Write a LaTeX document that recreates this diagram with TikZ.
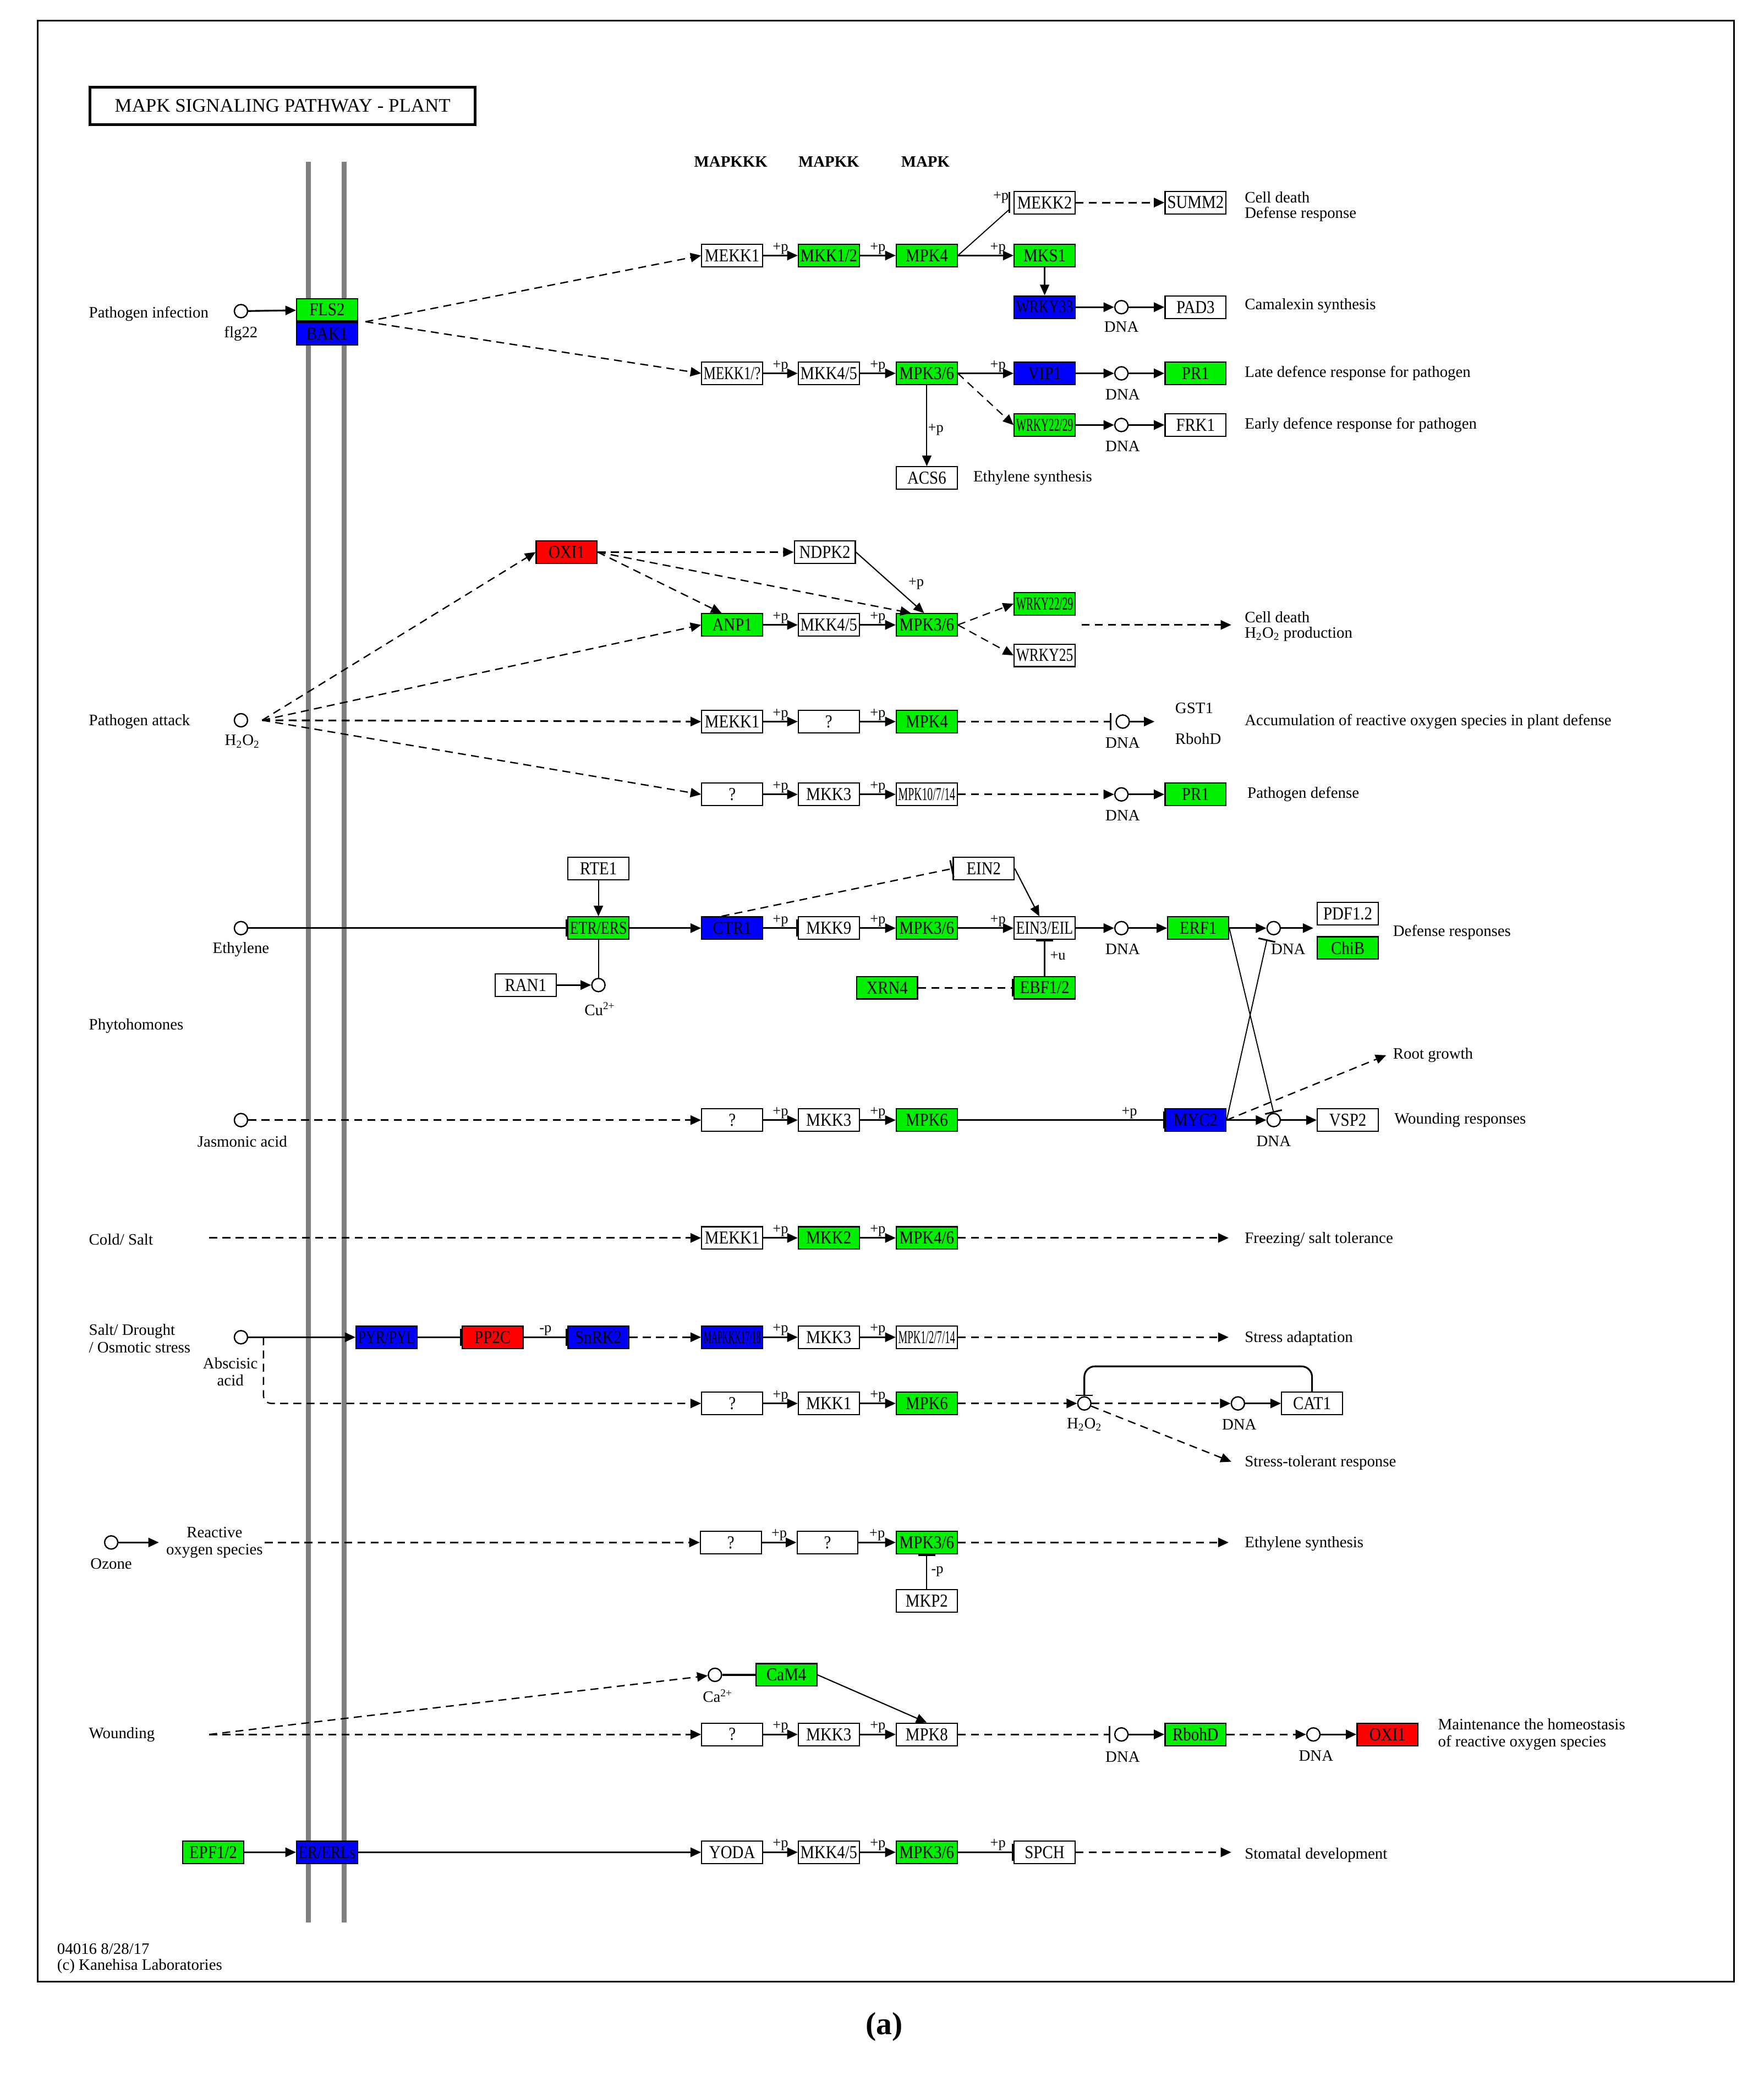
\documentclass[tikz,border=0pt]{standalone}
\usepackage{fontspec}
\setmainfont{Liberation Serif}
\usepackage{graphicx}
\usetikzlibrary{arrows.meta,calc}
\definecolor{kgreen}{RGB}{0,240,0}
\definecolor{kblue}{RGB}{0,0,255}
\definecolor{kred}{RGB}{255,0,0}
\definecolor{memb}{RGB}{128,128,128}
\newsavebox\fitlabbox
\newcommand\fitlab[1]{\sbox\fitlabbox{\scalebox{1}[1.15]{#1}}\ifdim\wd\fitlabbox>43pt\resizebox{43pt}{\height}{\usebox\fitlabbox}\else\usebox\fitlabbox\fi}
\newcommand\gene[4]{\node[gbox,fill=#4] (#1) at (#2) {\fitlab{#3}};}
\tikzset{
 gbox/.style={draw=black, line width=0.9pt, minimum width=46pt, minimum height=17pt, inner sep=0pt, font=\fontsize{12}{12}\selectfont},
 cmpd/.style={circle, draw=black, fill=white, line width=1pt, minimum size=10pt, inner sep=0pt},
 lbl/.style={font=\fontsize{12}{13}\selectfont, inner sep=0pt},
 lblw/.style={lbl, anchor=west},
 plab/.style={font=\fontsize{11}{11}\selectfont, inner sep=0.5pt},
 link/.style={line width=1.3pt},
 arr/.style={line width=1.3pt, -{Triangle[length=8pt,width=7pt]}},
 darr/.style={arr, dash pattern=on 6pt off 4pt},
 inh/.style={line width=1.3pt, -{Bar[width=13pt,line width=1.2pt]}},
 dinh/.style={inh, dash pattern=on 6pt off 4pt},
}
\begin{document}
\begin{tikzpicture}[x=1pt,y=-1pt]
\useasboundingbox (0,0) rectangle (1332,1568);
% frame, title, membrane
\node[draw, line width=1.2pt, minimum width=1281pt, minimum height=1481pt, inner sep=0pt, anchor=north west] (frame) at (28,15) {};
\node[draw, line width=2pt, minimum width=291pt, minimum height=28pt, inner sep=0pt, font=\fontsize{14.5}{15}\selectfont] (title) at (213.5,80) {MAPK SIGNALING PATHWAY - PLANT};
\draw[memb, line width=3.5pt] (233,122) -- (233,1452);
\draw[memb, line width=3.5pt] (260,122) -- (260,1452);
\node[lbl, font=\bfseries\fontsize{12}{13}\selectfont] (hA) at (552,122) {MAPKKK};
\node[lbl, font=\bfseries\fontsize{12}{13}\selectfont] (hB) at (626,122) {MAPKK};
\node[lbl, font=\bfseries\fontsize{12}{13}\selectfont] (hC) at (699,122) {MAPK};

% ---------- Pathogen infection
\node[lblw] (tPI) at (67,237) {Pathogen infection};
\node[cmpd] (flg) at (182,235) {};
\node[lbl] (tflg) at (182,252) {flg22};
\gene{fls2}{247,234}{FLS2}{kgreen}
\gene{bak1}{247,252}{BAK1}{kblue}
\coordinate (fbsrc) at (276,243);
\gene{mekkA}{553,193}{MEKK1}{white}
\gene{mkk12}{626,193}{MKK1/2}{kgreen}
\gene{mpk4A}{700,193}{MPK4}{kgreen}
\gene{mks1}{789,193}{MKS1}{kgreen}
\gene{mekk2}{789,153}{MEKK2}{white}
\gene{summ2}{903,153}{SUMM2}{white}
\node[lblw] (tCD1) at (940,149) {Cell death};
\node[lblw] (tDR1) at (940,162) {Defense response};
\gene{wrky33}{789,232}{WRKY33}{kblue}
\node[cmpd] (dnaA) at (847,232) {};
\node[lbl] (tdnaA) at (847,247) {DNA};
\gene{pad3}{903,232}{PAD3}{white}
\node[lblw] (tCam) at (940,231) {Camalexin synthesis};
\gene{mekkQ}{553,282}{MEKK1/?}{white}
\gene{mkk45A}{626,282}{MKK4/5}{white}
\gene{mpk36A}{700,282}{MPK3/6}{kgreen}
\gene{vip1}{789,282}{VIP1}{kblue}
\node[cmpd] (dnaB) at (847,282) {};
\node[lbl] (tdnaB) at (848,298) {DNA};
\gene{pr1A}{903,282}{PR1}{kgreen}
\node[lblw] (tLate) at (940,282) {Late defence response for pathogen};
\gene{wrkyA}{789,321}{WRKY22/29}{kgreen}
\node[cmpd] (dnaC) at (847,321) {};
\node[lbl] (tdnaC) at (848,337) {DNA};
\gene{frk1}{903,321}{FRK1}{white}
\node[lblw] (tEarly) at (940,321) {Early defence response for pathogen};
\gene{acs6}{700,361}{ACS6}{white}
\node[lblw] (tEth1) at (735,361) {Ethylene synthesis};

\draw[arr] (flg) -- (fls2);
\draw[darr, line width=1pt] (fbsrc) -- (mekkA.west);
\draw[darr, line width=1pt] (fbsrc) -- (mekkQ.west);
\draw[arr] (mekkA) -- node[plab,above] (p1) {+p} (mkk12);
\draw[arr] (mkk12) -- node[plab,above] (p2) {+p} (mpk4A);
\draw[arr] (mpk4A) -- node[plab,above,pos=0.72] (p3) {+p} (mks1);
\coordinate (mk2bar) at ($(mekk2.west)+(-3,0)$);
\draw[line width=0.8pt] (mpk4A.east) -- ($(mk2bar)+(0,5)$);
\draw[line width=1.2pt] ($(mk2bar)+(0,-8)$) -- ($(mk2bar)+(0,8)$);
\node[plab] (p4) at (756,149) {+p};
\draw[darr] (mekk2) -- (summ2);
\draw[arr, line width=0.9pt] (mks1) -- (wrky33);
\draw[arr] (wrky33) -- (dnaA);
\draw[arr] (dnaA) -- (pad3);
\draw[arr] (mekkQ) -- node[plab,above] (p5) {+p} (mkk45A);
\draw[arr] (mkk45A) -- node[plab,above] (p6) {+p} (mpk36A);
\draw[arr] (mpk36A) -- node[plab,above,pos=0.72] (p7) {+p} (vip1);
\draw[arr] (vip1) -- (dnaB);
\draw[arr] (dnaB) -- (pr1A);
\draw[darr, line width=0.9pt] (mpk36A.east) -- (wrkyA.west);
\draw[arr] (wrkyA) -- (dnaC);
\draw[arr] (dnaC) -- (frk1);
\draw[arr, line width=0.9pt] (mpk36A) -- node[plab,right,pos=0.55] (p8) {+p} (acs6);

% ---------- OXI1 block / pathogen attack
\gene{oxiA}{428,417}{OXI1}{kred}
\gene{ndpk2}{623,417}{NDPK2}{white}
\gene{anp1}{553,472}{ANP1}{kgreen}
\gene{mkk45B}{626,472}{MKK4/5}{white}
\gene{mpk36B}{700,472}{MPK3/6}{kgreen}
\gene{wrkyB}{789,456}{WRKY22/29}{kgreen}
\gene{wrky25}{789,495}{WRKY25}{white}
\coordinate (cdS) at (817,472);
\coordinate (cdE) at (930,472);
\node[lblw] (tCD2) at (940,466) {Cell death};
\node[lblw] (tH2) at (940,479) {H\textsubscript{2}O\textsubscript{2} production};
\node[lblw] (tPA) at (67,545) {Pathogen attack};
\node[cmpd] (pa) at (182,544) {};
\node[lbl] (tpa) at (183,560) {H\textsubscript{2}O\textsubscript{2}};
\coordinate (paS) at (198,544);
\gene{mekkB}{553,545}{MEKK1}{white}
\gene{q2}{626,545}{?}{white}
\gene{mpk4B}{700,545}{MPK4}{kgreen}
\node[cmpd] (dnaD) at (848,545) {};
\node[lbl] (tdnaD) at (848,561) {DNA};
\coordinate (gstE) at (872,545);
\node[lbl] (tGST) at (902,535) {GST1};
\node[lbl] (tRboh1) at (905,558) {RbohD};
\node[lblw] (tAcc) at (940,545) {Accumulation of reactive oxygen species in plant defense};
\gene{q3}{553,600}{?}{white}
\gene{mkk3A}{626,600}{MKK3}{white}
\gene{mpk10A}{700,600}{MPK10/7/14}{white}
\node[cmpd] (dnaE) at (847,600) {};
\node[lbl] (tdnaE) at (848,616) {DNA};
\gene{pr1B}{903,600}{PR1}{kgreen}
\node[lblw] (tPD) at (942,600) {Pathogen defense};

\draw[darr, line width=1pt] (paS) -- (oxiA.west);
\draw[darr, line width=1pt] (paS) -- (anp1.west);
\draw[darr] (paS) -- (mekkB.west);
\draw[darr, line width=1pt] (paS) -- (q3.west);
\draw[darr] (oxiA) -- (ndpk2);
\draw[darr, line width=1pt] (oxiA.east) -- ($(anp1.north)+(-8,0)$);
\draw[darr, line width=1pt] (oxiA.east) -- ($(mpk36B.north)+(-12,0)$);
\draw[arr, line width=0.9pt] (ndpk2.east) -- ($(mpk36B.north)+(-2,0)$);
\node[plab] (p9) at (692,441) {+p};
\draw[arr] (anp1) -- node[plab,above] (p10) {+p} (mkk45B);
\draw[arr] (mkk45B) -- node[plab,above] (p11) {+p} (mpk36B);
\draw[darr, line width=0.9pt] (mpk36B.east) -- (wrkyB.west);
\draw[darr, line width=0.9pt] (mpk36B.east) -- (wrky25.west);
\draw[darr] (cdS) -- (cdE);
\draw[arr] (mekkB) -- node[plab,above] (p12) {+p} (q2);
\draw[arr] (q2) -- node[plab,above] (p13) {+p} (mpk4B);
\draw[dinh, shorten >=3pt] (mpk4B) -- (dnaD);
\draw[arr] (dnaD) -- (gstE);
\draw[arr] (q3) -- node[plab,above] (p14) {+p} (mkk3A);
\draw[arr] (mkk3A) -- node[plab,above] (p15) {+p} (mpk10A);
\draw[darr] (mpk10A) -- (dnaE);
\draw[arr] (dnaE) -- (pr1B);

% ---------- Ethylene
\node[cmpd] (eth) at (182,701) {};
\node[lbl] (teth) at (182,717) {Ethylene};
\gene{etr}{452,701}{ETR/ERS}{kgreen}
\gene{rte1}{452,656}{RTE1}{white}
\gene{ctr1}{553,701}{CTR1}{kblue}
\gene{mkk9}{626,701}{MKK9}{white}
\gene{mpk36C}{700,701}{MPK3/6}{kgreen}
\gene{ein3}{789,701}{EIN3/EIL}{white}
\gene{ein2}{743,656}{EIN2}{white}
\node[cmpd] (cu) at (452,744) {};
\node[lbl] (tcu) at (453,762) {Cu\textsuperscript{2+}};
\gene{ran1}{397,744}{RAN1}{white}
\gene{ebf}{789,746}{EBF1/2}{kgreen}
\node[plab] (pu) at (799,722) {+u};
\gene{xrn4}{670,746}{XRN4}{kgreen}
\node[cmpd] (dnaF) at (847,701) {};
\node[lbl] (tdnaF) at (848,717) {DNA};
\gene{erf1}{905,701}{ERF1}{kgreen}
\node[cmpd] (dnaG) at (962,701) {};
\node[lbl] (tdnaG) at (973,717) {DNA};
\coordinate (defE) at (992,701);
\gene{pdf12}{1018,690}{PDF1.2}{white}
\gene{chib}{1018,716}{ChiB}{kgreen}
\node[lblw] (tDef) at (1052,704) {Defense responses};
\node[lblw] (tPhy) at (67,775) {Phytohomones};

% ---------- Jasmonic acid
\node[cmpd] (ja) at (182,846) {};
\node[lbl] (tja) at (183,862) {Jasmonic acid};
\gene{q4}{553,846}{?}{white}
\gene{mkk3B}{626,846}{MKK3}{white}
\gene{mpk6A}{700,846}{MPK6}{kgreen}
\gene{myc2}{903,846}{MYC2}{kblue}
\node[cmpd] (dnaH) at (962,846) {};
\node[lbl] (tdnaH) at (962,862) {DNA};
\gene{vsp2}{1018,846}{VSP2}{white}
\node[lblw] (tWR) at (1053,846) {Wounding responses};
\coordinate (rootE) at (1047,797);
\node[lblw] (tRoot) at (1052,797) {Root growth};

\draw[inh] (eth) -- (etr);
\draw[arr, line width=0.9pt] (rte1) -- (etr);
\draw[line width=0.9pt] (etr) -- (cu);
\draw[arr] (ran1) -- (cu);
\draw[arr] (etr) -- (ctr1);
\draw[inh] (ctr1) -- node[plab,above] (p20) {+p} (mkk9);
\draw[arr] (mkk9) -- node[plab,above] (p21) {+p} (mpk36C);
\draw[arr] (mpk36C) -- node[plab,above,pos=0.72] (p22) {+p} (ein3);
\draw[dinh, line width=1pt] ($(ctr1.north)+(-8,0)$) -- (ein2.west);
\draw[arr, line width=0.9pt] (ein2.east) -- ($(ein3.north)+(-4,0)$);
\draw[inh, line width=0.9pt] (ebf) -- (ein3);
\draw[dinh] (xrn4) -- (ebf);
\draw[arr] (ein3) -- (dnaF);
\draw[arr] (dnaF) -- (erf1);
\draw[arr] (erf1) -- (dnaG);
\draw[arr] (dnaG) -- (defE);
\draw[inh, line width=0.8pt] (erf1.east) -- (dnaH.north);
\draw[inh, line width=0.8pt] (myc2.east) -- ($(dnaG.south)+(-5,3)$);
\draw[darr] (ja) -- (q4);
\draw[arr] (q4) -- node[plab,above] (p23) {+p} (mkk3B);
\draw[arr] (mkk3B) -- node[plab,above] (p24) {+p} (mpk6A);
\draw[inh] (mpk6A) -- node[plab,above,pos=0.83] (p25) {+p} (myc2);
\draw[arr] (myc2) -- (dnaH);
\draw[arr] (dnaH) -- (vsp2);
\draw[darr, line width=1pt] (myc2.east) -- (rootE);

% ---------- Cold / Salt
\node[lblw] (tCS) at (67,936) {Cold/ Salt};
\coordinate (csS) at (158,935);
\gene{mekkC}{553,935}{MEKK1}{white}
\gene{mkk2}{626,935}{MKK2}{kgreen}
\gene{mpk46}{700,935}{MPK4/6}{kgreen}
\coordinate (csE) at (928,935);
\node[lblw] (tFST) at (940,936) {Freezing/ salt tolerance};
\draw[darr] (csS) -- (mekkC);
\draw[arr] (mekkC) -- node[plab,above] (p26) {+p} (mkk2);
\draw[arr] (mkk2) -- node[plab,above] (p27) {+p} (mpk46);
\draw[darr] (mpk46) -- (csE);

% ---------- Salt / Drought
\node[lbl, align=left, anchor=west] (tSD) at (67,1011) {Salt/ Drought\\/ Osmotic stress};
\node[cmpd] (aba) at (182,1010) {};
\node[lbl, align=center] (taba) at (174,1036) {Abscisic\\acid};
\coordinate (abaJ) at (199,1010);
\gene{pyr}{292,1010}{PYR/PYL}{kblue}
\gene{pp2c}{372,1010}{PP2C}{kred}
\gene{snrk2}{452,1010}{SnRK2}{kblue}
\gene{mk17}{553,1010}{MAPKKK17/18}{kblue}
\gene{mkk3C}{626,1010}{MKK3}{white}
\gene{mpk127}{700,1010}{MPK1/2/7/14}{white}
\coordinate (saE) at (928,1010);
\node[lblw] (tSA) at (940,1011) {Stress adaptation};
\gene{q5}{553,1060}{?}{white}
\gene{mkk1}{626,1060}{MKK1}{white}
\gene{mpk6B}{700,1060}{MPK6}{kgreen}
\node[cmpd] (h2o2) at (819,1060) {};
\node[lbl] (th2o2) at (819,1076) {H\textsubscript{2}O\textsubscript{2}};
\node[cmpd] (dnaI) at (935,1060) {};
\node[lbl] (tdnaI) at (936,1076) {DNA};
\gene{cat1}{991,1060}{CAT1}{white}
\coordinate (catTop) at (819,1032);
\coordinate (stE) at (930,1104);
\node[lblw] (tST) at (940,1105) {Stress-tolerant response};

\draw[line width=1pt] (aba) -- (abaJ);
\draw[arr] (abaJ) -- (pyr);
\draw[darr, line width=1pt, rounded corners=6pt] (abaJ) |- (q5.west);
\draw[inh] (pyr) -- (pp2c);
\draw[inh] (pp2c) -- node[plab,above] (p28) {-p} (snrk2);
\draw[darr] (snrk2) -- (mk17);
\draw[arr] (mk17) -- node[plab,above] (p29) {+p} (mkk3C);
\draw[arr] (mkk3C) -- node[plab,above] (p30) {+p} (mpk127);
\draw[darr] (mpk127) -- (saE);
\draw[arr] (q5) -- node[plab,above] (p31) {+p} (mkk1);
\draw[arr] (mkk1) -- node[plab,above] (p32) {+p} (mpk6B);
\draw[darr] (mpk6B) -- (h2o2);
\draw[darr] (h2o2) -- (dnaI);
\draw[arr] (dnaI) -- (cat1);
\draw[inh, rounded corners=8pt] (cat1.north) |- (catTop) -- (h2o2.north);
\draw[darr, line width=1pt] (h2o2) -- (stE);

% ---------- Ozone
\node[cmpd] (oz) at (84,1165) {};
\node[lbl] (toz) at (84,1181) {Ozone};
\coordinate (ozE) at (120,1165);
\node[lbl, align=center] (tros) at (162,1165) {Reactive\\oxygen species};
\coordinate (rosS) at (200,1165);
\gene{q6}{552,1165}{?}{white}
\gene{q7}{625,1165}{?}{white}
\gene{mpk36D}{700,1165}{MPK3/6}{kgreen}
\coordinate (ozEnd) at (928,1165);
\node[lblw] (tEth2) at (940,1166) {Ethylene synthesis};
\gene{mkp2}{700,1209}{MKP2}{white}
\node[plab] (pm) at (708,1187) {-p};
\draw[arr] (oz) -- (ozE);
\draw[darr] (rosS) -- (q6);
\draw[arr] (q6) -- node[plab,above] (p33) {+p} (q7);
\draw[arr] (q7) -- node[plab,above] (p34) {+p} (mpk36D);
\draw[darr] (mpk36D) -- (ozEnd);
\draw[inh, line width=0.9pt] (mkp2) -- (mpk36D);

% ---------- Wounding
\node[lblw] (tW) at (67,1310) {Wounding};
\coordinate (wS) at (158,1310);
\node[cmpd] (ca) at (540,1265) {};
\node[lbl] (tca) at (542,1281) {Ca\textsuperscript{2+}};
\gene{cam4}{594,1265}{CaM4}{kgreen}
\gene{q8}{553,1310}{?}{white}
\gene{mkk3D}{626,1310}{MKK3}{white}
\gene{mpk8}{700,1310}{MPK8}{white}
\node[cmpd] (dnaJ) at (847,1310) {};
\node[lbl] (tdnaJ) at (848,1327) {DNA};
\gene{rbohd}{903,1310}{RbohD}{kgreen}
\node[cmpd] (dnaK) at (992,1310) {};
\node[lbl] (tdnaK) at (994,1326) {DNA};
\gene{oxiB}{1048,1310}{OXI1}{kred}
\node[lbl, align=left, anchor=west] (tMH) at (1086,1310) {Maintenance the homeostasis\\of reactive oxygen species};
\draw[darr] (wS) -- (q8);
\draw[darr, line width=1pt] (wS) -- (ca);
\draw[link] (ca) -- (cam4);
\draw[arr, line width=0.9pt] (cam4.east) -- (mpk8.north);
\draw[arr] (q8) -- node[plab,above] (p35) {+p} (mkk3D);
\draw[arr] (mkk3D) -- node[plab,above] (p36) {+p} (mpk8);
\draw[dinh, shorten >=3pt] (mpk8) -- (dnaJ);
\draw[arr] (dnaJ) -- (rbohd);
\draw[darr] (rbohd) -- (dnaK);
\draw[arr] (dnaK) -- (oxiB);

% ---------- Stomatal
\gene{epf}{161,1399}{EPF1/2}{kgreen}
\gene{er}{247,1399}{ER/ERLs}{kblue}
\gene{yoda}{553,1399}{YODA}{white}
\gene{mkk45C}{626,1399}{MKK4/5}{white}
\gene{mpk36E}{700,1399}{MPK3/6}{kgreen}
\gene{spch}{789,1399}{SPCH}{white}
\coordinate (stoE) at (930,1399);
\node[lblw] (tSto) at (940,1401) {Stomatal development};
\draw[arr] (epf) -- (er);
\draw[arr] (er) -- (yoda);
\draw[arr] (yoda) -- node[plab,above] (p37) {+p} (mkk45C);
\draw[arr] (mkk45C) -- node[plab,above] (p38) {+p} (mpk36E);
\draw[inh] (mpk36E) -- node[plab,above,pos=0.72] (p39) {+p} (spch);
\draw[darr] (spch) -- (stoE);

% ---------- footer, caption
\node[lblw, font=\fontsize{12}{12}\selectfont] (f1) at (43,1472) {04016 8/28/17};
\node[lblw, font=\fontsize{12}{12}\selectfont] (f2) at (43,1485) {(c) Kanehisa Laboratories};
\node[font=\bfseries\fontsize{24}{26}\selectfont, inner sep=0pt] (cap) at (668,1531) {(a)};
\end{tikzpicture}
\end{document}
